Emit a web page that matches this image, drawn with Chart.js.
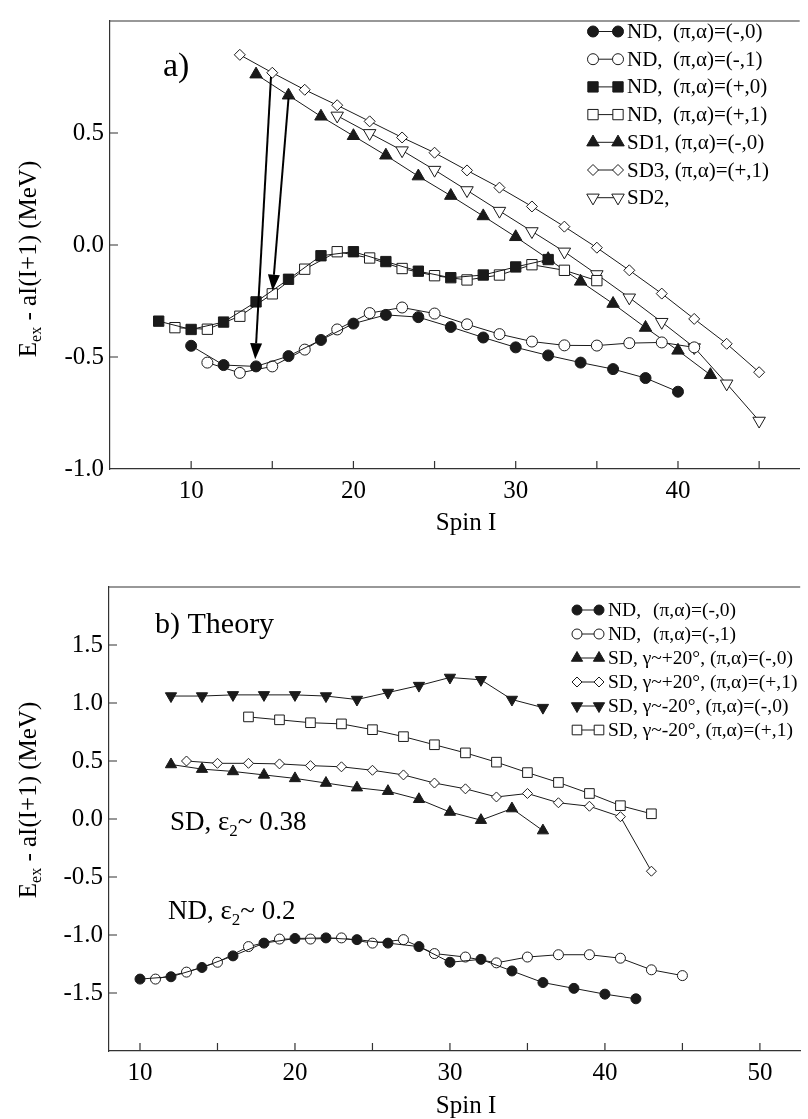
<!DOCTYPE html>
<html>
<head>
<meta charset="utf-8">
<script src="https://cdn.jsdelivr.net/npm/chart.js@4.4.1/dist/chart.umd.min.js"></script>
<style>
  body { margin: 0; background: #fff; width: 808px; height: 1119px; overflow: hidden; position: relative; }
  canvas { position: absolute; left: 0; }
  #chartA { top: 0; }
  #chartB { top: 560px; }
</style>
</head>
<body>
<canvas id="chartA" width="808" height="545"></canvas>
<canvas id="chartB" width="808" height="559"></canvas>
<script>
// ---------- panel a) experiment ----------
const spinNdMinus0 = [10, 12, 14, 16, 18, 20, 22, 24, 26, 28, 30, 32, 34, 36, 38, 40];
const ndMinus0 = [-0.45, -0.536, -0.542, -0.496, -0.424, -0.351, -0.312, -0.322, -0.366, -0.413, -0.457, -0.493, -0.525, -0.554, -0.594, -0.655];
const spinNdMinus1 = [11, 13, 15, 17, 19, 21, 23, 25, 27, 29, 31, 33, 35, 37, 39, 41];
const ndMinus1 = [-0.525, -0.571, -0.542, -0.467, -0.377, -0.304, -0.279, -0.306, -0.354, -0.398, -0.431, -0.448, -0.449, -0.438, -0.435, -0.457];
const spinNdPlus0 = [8, 10, 12, 14, 16, 18, 20, 22, 24, 26, 28, 30, 32];
const ndPlus0 = [-0.34, -0.377, -0.344, -0.254, -0.153, -0.048, -0.03, -0.074, -0.117, -0.146, -0.134, -0.098, -0.065];
const spinNdPlus1 = [9, 11, 13, 15, 17, 19, 21, 23, 25, 27, 29, 31, 33, 35];
const ndPlus1 = [-0.369, -0.376, -0.318, -0.218, -0.108, -0.03, -0.058, -0.105, -0.137, -0.156, -0.134, -0.088, -0.113, -0.159];
const spinSd1 = [14, 16, 18, 20, 22, 24, 26, 28, 30, 32, 34, 36, 38, 40, 42];
const sd1 = [0.762, 0.668, 0.574, 0.487, 0.4, 0.307, 0.22, 0.129, 0.036, -0.062, -0.163, -0.262, -0.369, -0.471, -0.58];
const spinSd3 = [13, 15, 17, 19, 21, 23, 25, 27, 29, 31, 33, 35, 37, 39, 41, 43, 45];
const sd3 = [0.849, 0.769, 0.693, 0.624, 0.552, 0.48, 0.412, 0.333, 0.256, 0.172, 0.082, -0.012, -0.113, -0.217, -0.33, -0.441, -0.568];
const spinSd2 = [19, 21, 23, 25, 27, 29, 31, 33, 35, 37, 39, 41, 43, 45];
const sd2 = [0.577, 0.499, 0.422, 0.335, 0.244, 0.152, 0.061, -0.03, -0.131, -0.235, -0.344, -0.457, -0.619, -0.785];
// linking transitions (spin, energy): start -> tip
const arrowFrom = [[14.92, 0.75], [16.0, 0.655]];
const arrowTo = [[13.95, -0.51], [15.02, -0.204]];

// ---------- panel b) theory ----------
const spinThNd0 = [10, 12, 14, 16, 18, 20, 22, 24, 26, 28, 30, 32, 34, 36, 38, 40, 42];
const thNd0 = [-1.38, -1.36, -1.28, -1.18, -1.07, -1.03, -1.025, -1.04, -1.07, -1.1, -1.235, -1.21, -1.31, -1.41, -1.46, -1.51, -1.55];
const spinThNd1 = [11, 13, 15, 17, 19, 21, 23, 25, 27, 29, 31, 33, 35, 37, 39, 41, 43, 45];
const thNd1 = [-1.38, -1.32, -1.235, -1.1, -1.035, -1.035, -1.025, -1.07, -1.04, -1.16, -1.19, -1.24, -1.19, -1.17, -1.17, -1.2, -1.3, -1.35];
const spinThSdP0 = [12, 14, 16, 18, 20, 22, 24, 26, 28, 30, 32, 34, 36];
const thSdP0 = [0.47, 0.43, 0.41, 0.38, 0.35, 0.31, 0.27, 0.24, 0.17, 0.06, -0.01, 0.09, -0.1];
const spinThSdP1 = [13, 15, 17, 19, 21, 23, 25, 27, 29, 31, 33, 35, 37, 39, 41, 43];
const thSdP1 = [0.5, 0.48, 0.48, 0.475, 0.46, 0.45, 0.42, 0.38, 0.31, 0.26, 0.19, 0.22, 0.14, 0.11, 0.02, -0.45];
const spinThSdM0 = [12, 14, 16, 18, 20, 22, 24, 26, 28, 30, 32, 34, 36];
const thSdM0 = [1.06, 1.06, 1.07, 1.07, 1.07, 1.06, 1.03, 1.09, 1.15, 1.22, 1.2, 1.03, 0.96];
const spinThSdM1 = [17, 19, 21, 23, 25, 27, 29, 31, 33, 35, 37, 39, 41, 43];
const thSdM1 = [0.88, 0.855, 0.83, 0.82, 0.77, 0.71, 0.64, 0.57, 0.49, 0.4, 0.315, 0.22, 0.115, 0.045];

const SERIF = '"Liberation Serif", "DejaVu Serif", serif';
const INK = '#1a1a1a';

function pts(xs, ys) {
  return xs.map((x, i) => ({ x: x, y: ys[i] }));
}

function series(label, xs, ys, style, filled, r, rot) {
  return {
    label: label,
    data: pts(xs, ys),
    borderColor: INK,
    borderWidth: 1,
    pointStyle: style,
    pointRadius: r,
    pointHoverRadius: r,
    pointRotation: rot || 0,
    pointBackgroundColor: filled ? INK : '#fff',
    pointBorderColor: INK,
    pointBorderWidth: 1,
    tension: 0,
    fill: false
  };
}

function marker(ctx, ds, x, y) {
  ctx.save();
  ctx.fillStyle = ds.pointBackgroundColor;
  ctx.strokeStyle = ds.pointBorderColor;
  ctx.lineWidth = 1;
  Chart.helpers.drawPoint(ctx, {
    pointStyle: ds.pointStyle, radius: ds.pointRadius,
    rotation: ds.pointRotation, borderWidth: 1
  }, x, y);
  ctx.restore();
}

function drawLegend(chart, rows, x0, gap, textX, y0, dy, size) {
  const ctx = chart.ctx;
  ctx.save();
  ctx.font = size + 'px ' + SERIF;
  ctx.textBaseline = 'middle';
  ctx.fillStyle = '#000';
  rows.forEach((row, i) => {
    const ds = chart.data.datasets[row.ds];
    const y = y0 + i * dy;
    ctx.strokeStyle = INK;
    ctx.lineWidth = 1;
    ctx.beginPath();
    ctx.moveTo(x0, y);
    ctx.lineTo(x0 + gap, y);
    ctx.stroke();
    marker(ctx, ds, x0, y);
    marker(ctx, ds, x0 + gap, y);
    ctx.fillStyle = '#000';
    row.parts.forEach(p => ctx.fillText(p[0], textX + p[1], y + 1));
  });
  ctx.restore();
}

function drawYTitle(ctx, cx, cy, fs) {
  const main = fs + 'px ' + SERIF;
  const sub = Math.round(fs * 0.62) + 'px ' + SERIF;
  const rest = ' - aI(I+1) (MeV)';
  ctx.save();
  ctx.translate(cx, cy);
  ctx.rotate(-Math.PI / 2);
  ctx.fillStyle = '#000';
  ctx.textBaseline = 'alphabetic';
  ctx.font = main;
  const wE = ctx.measureText('E').width;
  const wR = ctx.measureText(rest).width;
  ctx.font = sub;
  const wS = ctx.measureText('ex').width;
  let x = -(wE + wS + wR) / 2;
  const by = fs * 0.35;
  ctx.font = main;
  ctx.fillText('E', x, by);
  x += wE;
  ctx.font = sub;
  ctx.fillText('ex', x, by + fs * 0.22);
  x += wS;
  ctx.font = main;
  ctx.fillText(rest, x, by);
  ctx.restore();
}

function frame(chart, xTicks, yTicks, tickLen) {
  const ctx = chart.ctx;
  const a = chart.chartArea;
  const xs = chart.scales.x, ys = chart.scales.y;
  ctx.save();
  ctx.strokeStyle = '#333';
  ctx.lineWidth = 1.2;
  ctx.beginPath();
  ctx.moveTo(a.left, a.top);
  ctx.lineTo(a.right, a.top);
  xTicks.forEach(v => {
    const px = xs.getPixelForValue(v);
    ctx.moveTo(px, a.bottom);
    ctx.lineTo(px, a.bottom - tickLen);
  });
  yTicks.forEach(v => {
    const py = ys.getPixelForValue(v);
    ctx.moveTo(a.left, py);
    ctx.lineTo(a.left + tickLen, py);
  });
  ctx.stroke();
  ctx.restore();
}

function text(ctx, str, x, y, size, align) {
  ctx.save();
  ctx.font = size + 'px ' + SERIF;
  ctx.fillStyle = '#000';
  ctx.textAlign = align || 'left';
  ctx.textBaseline = 'alphabetic';
  ctx.fillText(str, x, y);
  ctx.restore();
}

// "SD, ε2~ 0.38" style label with a subscript 2
function epsLabel(ctx, head, tail, x, y, size) {
  ctx.save();
  ctx.fillStyle = '#000';
  ctx.textBaseline = 'alphabetic';
  ctx.font = size + 'px ' + SERIF;
  ctx.fillText(head, x, y);
  x += ctx.measureText(head).width;
  ctx.font = Math.round(size * 0.62) + 'px ' + SERIF;
  ctx.fillText('2', x, y + size * 0.22);
  x += ctx.measureText('2').width;
  ctx.font = size + 'px ' + SERIF;
  ctx.fillText(tail, x, y);
  ctx.restore();
}

function axes(xmin, xmax, ymin, ymax, yWidth, xHeight, hideY) {
  return {
    x: {
      type: 'linear', min: xmin, max: xmax,
      grid: { display: false, drawTicks: false },
      border: { display: true, color: '#333', width: 1.2 },
      ticks: {
        stepSize: 5, padding: 7, color: '#000', includeBounds: false,
        font: { family: SERIF, size: 25 },
        maxRotation: 0, autoSkip: false,
        callback: v => (v % 10 === 0 ? String(v) : '')
      },
      afterFit: s => { s.height = xHeight; }
    },
    y: {
      type: 'linear', min: ymin, max: ymax,
      grid: { display: false, drawTicks: false },
      border: { display: true, color: '#333', width: 1.2 },
      ticks: {
        stepSize: 0.5, padding: 6, color: '#000',
        font: { family: SERIF, size: 25 },
        callback: v => (hideY.includes(v) ? '' : v.toFixed(1))
      },
      afterFit: s => { s.width = yWidth; }
    }
  };
}

const common = {
  responsive: false,
  animation: false,
  events: [],
  plugins: { legend: { display: false }, tooltip: { enabled: false } }
};

// ---------- chart a ----------
const decorA = {
  id: 'decorA',
  afterDatasetsDraw(chart) {
    const ctx = chart.ctx;
    const xs = chart.scales.x, ys = chart.scales.y;
    ctx.save();
    ctx.strokeStyle = '#000';
    ctx.fillStyle = '#000';
    ctx.lineWidth = 2;
    arrowFrom.forEach((f, i) => {
      const x1 = xs.getPixelForValue(f[0]), y1 = ys.getPixelForValue(f[1]);
      const x2 = xs.getPixelForValue(arrowTo[i][0]), y2 = ys.getPixelForValue(arrowTo[i][1]);
      const ang = Math.atan2(y2 - y1, x2 - x1);
      const hl = 16, hw = 6;
      const bx = x2 - hl * Math.cos(ang), by = y2 - hl * Math.sin(ang);
      ctx.beginPath();
      ctx.moveTo(x1, y1);
      ctx.lineTo(bx, by);
      ctx.stroke();
      ctx.beginPath();
      ctx.moveTo(x2, y2);
      ctx.lineTo(bx + hw * Math.sin(ang), by - hw * Math.cos(ang));
      ctx.lineTo(bx - hw * Math.sin(ang), by + hw * Math.cos(ang));
      ctx.closePath();
      ctx.fill();
    });
    ctx.restore();
  },
  afterDraw(chart) {
    const ctx = chart.ctx;
    frame(chart, [10, 15, 20, 25, 30, 35, 40, 45], [-0.5, 0, 0.5], 8);
    drawLegend(chart, [
      { ds: 0, parts: [['ND,  (\u03c0,\u03b1)=(-,0)', 0]] },
      { ds: 1, parts: [['ND,  (\u03c0,\u03b1)=(-,1)', 0]] },
      { ds: 2, parts: [['ND,  (\u03c0,\u03b1)=(+,0)', 0]] },
      { ds: 3, parts: [['ND,  (\u03c0,\u03b1)=(+,1)', 0]] },
      { ds: 4, parts: [['SD1, (\u03c0,\u03b1)=(-,0)', 0]] },
      { ds: 5, parts: [['SD3, (\u03c0,\u03b1)=(+,1)', 0]] },
      { ds: 6, parts: [['SD2,', 0]] }
    ], 593, 25, 627, 31.5, 27.7, 21);
    text(ctx, 'a)', 163, 76, 34);
    text(ctx, 'Spin I', 466, 530, 25, 'center');
    drawYTitle(ctx, 27, 259, 25);
  }
};

new Chart(document.getElementById('chartA'), {
  type: 'line',
  data: {
    datasets: [
      series('ND (-,0)', spinNdMinus0, ndMinus0, 'circle', true, 5.5),
      series('ND (-,1)', spinNdMinus1, ndMinus1, 'circle', false, 5.5),
      series('ND (+,0)', spinNdPlus0, ndPlus0, 'rect', true, 7.3),
      series('ND (+,1)', spinNdPlus1, ndPlus1, 'rect', false, 7.3),
      series('SD1 (-,0)', spinSd1, sd1, 'triangle', true, 7.2),
      series('SD3 (+,1)', spinSd3, sd3, 'rectRot', false, 5.5),
      series('SD2', spinSd2, sd2, 'triangle', false, 7.2, 180)
    ]
  },
  options: Object.assign({}, common, {
    layout: { padding: { top: 7, right: 0, left: 0, bottom: 0 } },
    scales: axes(5, 47.5, -1, 1, 110, 76, [1])
  }),
  plugins: [decorA]
});

// ---------- chart b ----------
const decorB = {
  id: 'decorB',
  afterDraw(chart) {
    const ctx = chart.ctx;
    frame(chart, [10, 15, 20, 25, 30, 35, 40, 45, 50], [-1.5, -1, -0.5, 0, 0.5, 1, 1.5], 8);
    drawLegend(chart, [
      { ds: 0, parts: [['ND,', 0], ['(\u03c0,\u03b1)=(-,0)', 45]] },
      { ds: 1, parts: [['ND,', 0], ['(\u03c0,\u03b1)=(-,1)', 45]] },
      { ds: 2, parts: [['SD, \u03b3~+20\u00b0, (\u03c0,\u03b1)=(-,0)', 0]] },
      { ds: 3, parts: [['SD, \u03b3~+20\u00b0, (\u03c0,\u03b1)=(+,1)', 0]] },
      { ds: 4, parts: [['SD, \u03b3~-20\u00b0, (\u03c0,\u03b1)=(-,0)', 0]] },
      { ds: 5, parts: [['SD, \u03b3~-20\u00b0, (\u03c0,\u03b1)=(+,1)', 0]] }
    ], 577, 22, 608, 50, 24, 19.5);
    text(ctx, 'b) Theory', 155, 73, 30);
    epsLabel(ctx, 'SD, \u03b5', '~ 0.38', 170, 270, 27);
    epsLabel(ctx, 'ND, \u03b5', '~ 0.2', 168, 359, 27);
    text(ctx, 'Spin I', 466, 553, 25, 'center');
    drawYTitle(ctx, 27, 240, 25);
  }
};

new Chart(document.getElementById('chartB'), {
  type: 'line',
  data: {
    datasets: [
      series('ND (-,0)', spinThNd0, thNd0, 'circle', true, 5),
      series('ND (-,1)', spinThNd1, thNd1, 'circle', false, 5),
      series('SD +20 (-,0)', spinThSdP0, thSdP0, 'triangle', true, 6.5),
      series('SD +20 (+,1)', spinThSdP1, thSdP1, 'rectRot', false, 5),
      series('SD -20 (-,0)', spinThSdM0, thSdM0, 'triangle', true, 6.5, 180),
      series('SD -20 (+,1)', spinThSdM1, thSdM1, 'rect', false, 6.8)
    ]
  },
  options: Object.assign({}, common, {
    layout: { padding: { top: 27, right: 0, left: 0, bottom: 0 } },
    scales: axes(8, 52.6, -2, 2, 109, 68, [2, -2])
  }),
  plugins: [decorB]
});
</script>
</body>
</html>
